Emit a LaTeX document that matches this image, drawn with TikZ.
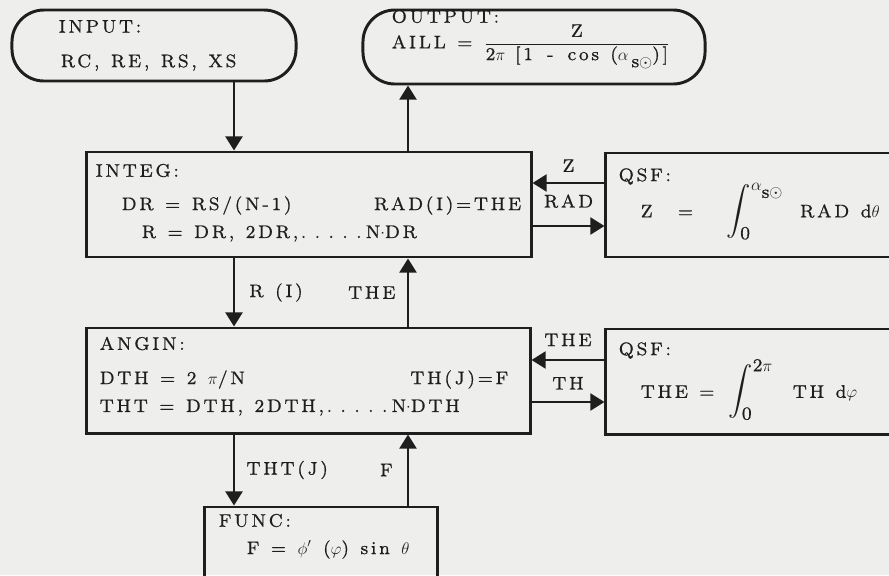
\documentclass[tikz,border=0pt]{standalone}
\usepackage{fontspec}
\setmainfont{lmroman8-regular.otf}[LetterSpace=15, WordSpace=1.25, FakeBold=0.7]
\usepackage{amsmath}
\usetikzlibrary{arrows.meta,calc,positioning}
\definecolor{PaperGray}{HTML}{EEEEEC}
\definecolor{InkBlack}{HTML}{1E1E1E}

\newcommand{\bigsize}{\fontsize{18}{20}\selectfont}
\newcommand{\normsize}{\fontsize{13}{15}\selectfont}
\newcommand{\spdots}{.\hspace{6pt}.\hspace{6pt}.\hspace{6pt}.\hspace{6pt}.\hspace{3pt}}
\newcommand{\alfsun}{\hbox{\normsize$\alpha$\lower5pt\hbox{s$\odot$}}}

\tikzset{
  module/.style={draw=InkBlack, line width=2.1pt, rectangle, inner sep=0pt},
  terminal/.style={module, rounded corners=0.8cm},
  flow/.style={draw=InkBlack, line width=1.8pt, -{Triangle[length=10pt,width=12pt]}},
  txt/.style={anchor=west, inner sep=0pt, text=InkBlack, font=\normsize},
  txtr/.style={txt, anchor=east},
  tag/.style={txt, anchor=center}
}

\begin{document}
\begin{tikzpicture}[x=0.025cm, y=-0.025cm]
\clip (0,0) rectangle (889,575);
\fill[PaperGray] (0,0) rectangle (889,575);

% blocks
\node [terminal, minimum width=7.1cm, minimum height=1.775cm] (in) at (154,45.5) {};
\node [terminal, minimum width=8.55cm, minimum height=1.85cm] (out) at (534,47) {};
\node [module, minimum width=11.1cm, minimum height=2.625cm] (integ) at (309,204.5) {};
\node [module, minimum width=7.225cm, minimum height=2.6cm] (qsfa) at (750.5,205) {};
\node [module, minimum width=11.075cm, minimum height=2.625cm] (angin) at (308.5,380.5) {};
\node [module, minimum width=7.225cm, minimum height=2.625cm] (qsfb) at (750.5,381.5) {};
\node [module, minimum width=5.8cm, minimum height=2.075cm] (func) at (321,548.5) {};

% texts in the blocks
\node [txt] at ($(in.north west)+(48,18)$) {INPUT:};
\node [txt] at ($(in.north west)+(50,54)$) {RC, RE, RS, XS};
\node [txt] at ($(out.north west)+(30,8)$) {OUTPUT:};
\node [txt] at ($(out.north west)+(30,38)$) {AILL = $\displaystyle\frac{\hbox{Z}}{\hbox{2$\pi$\hspace{7pt}[1\hspace{10pt}-\hspace{10pt}cos\hspace{8pt}($\alpha$\,\lower5pt\hbox{s$\odot$})]}}$};

\node [txt] at ($(integ.north west)+(10,20)$) {INTEG:};
\node [txt] at ($(integ.north west)+(36,55)$) {DR = RS/(N-1)};
\node [txtr] at ($(integ.north east)+(-11,55)$) {RAD(I)=THE};
\node [txt] at ($(integ.north west)+(56,83)$) {R = DR, 2DR,\spdots N$\cdot$DR};

\node [txt] at ($(angin.north west)+(14,17)$) {ANGIN:};
\node [txt] at ($(angin.north west)+(14,53)$) {DTH = 2 $\pi$/N};
\node [txtr] at ($(angin.north east)+(-23,53)$) {TH(J)=F};
\node [txt] at ($(angin.north west)+(14,81)$) {THT = DTH, 2DTH,\spdots N$\cdot$DTH};

\node [txt] at ($(func.north west)+(15,15)$) {FUNC:};
\node [txt] at ($(func.north west)+(43,44)$) {F = $\phi'$ ($\varphi$) sin $\theta$};

\node [txt] at ($(qsfa.north west)+(14,25)$) {QSF:};
\node [txt] at ($(qsfa.north west)+(36,60)$) {Z\hspace{18pt}=\hspace{24pt}{\bigsize$\displaystyle\int_{\hbox{\normsize 0}}^{\alfsun}$}\hspace{12pt}RAD d$\theta$};
\node [txt] at ($(qsfb.north west)+(14,23)$) {QSF:};
\node [txt] at ($(qsfb.north west)+(36,62)$) {THE\hspace{8pt}=\hspace{10pt}{\bigsize$\displaystyle\int_{\hbox{\normsize 0}}^{\hbox{\normsize 2$\pi$}}$}\hspace{14pt}TH d$\varphi$};

% lanes and rows
\coordinate (laneL) at (234,0);
\coordinate (laneR) at (408,0);
\coordinate (rowZ) at (0,183);
\coordinate (rowRAD) at (0,226);
\coordinate (rowTHE) at (0,360);
\coordinate (rowTH) at (0,402);

% connectors
\draw [flow] (in.south -| laneL) -- (integ.north -| laneL);
\draw [flow] (integ.north -| laneR) -- (out.south -| laneR);
\draw [flow] (integ.south -| laneL) -- node [txt, right=10pt] {R (I)} (angin.north -| laneL);
\draw [flow] (angin.north -| laneR) -- node [txt, left=8pt] {THE} (integ.south -| laneR);
\draw [flow] (angin.south -| laneL) -- node [txt, right=8pt] {THT(J)} (func.north -| laneL);
\draw [flow] (func.north -| laneR) -- node [txt, left=10pt] {F} (angin.south -| laneR);
\draw [flow] (qsfa.west |- rowZ) -- node [tag, above=7pt] {Z} (integ.east |- rowZ);
\draw [flow] (integ.east |- rowRAD) -- node [tag, above=12pt] {RAD} (qsfa.west |- rowRAD);
\draw [flow] (qsfb.west |- rowTHE) -- node [tag, above=9pt] {THE} (angin.east |- rowTHE);
\draw [flow] (angin.east |- rowTH) -- node [tag, above=8pt] {TH} (qsfb.west |- rowTH);
\end{tikzpicture}
\end{document}
